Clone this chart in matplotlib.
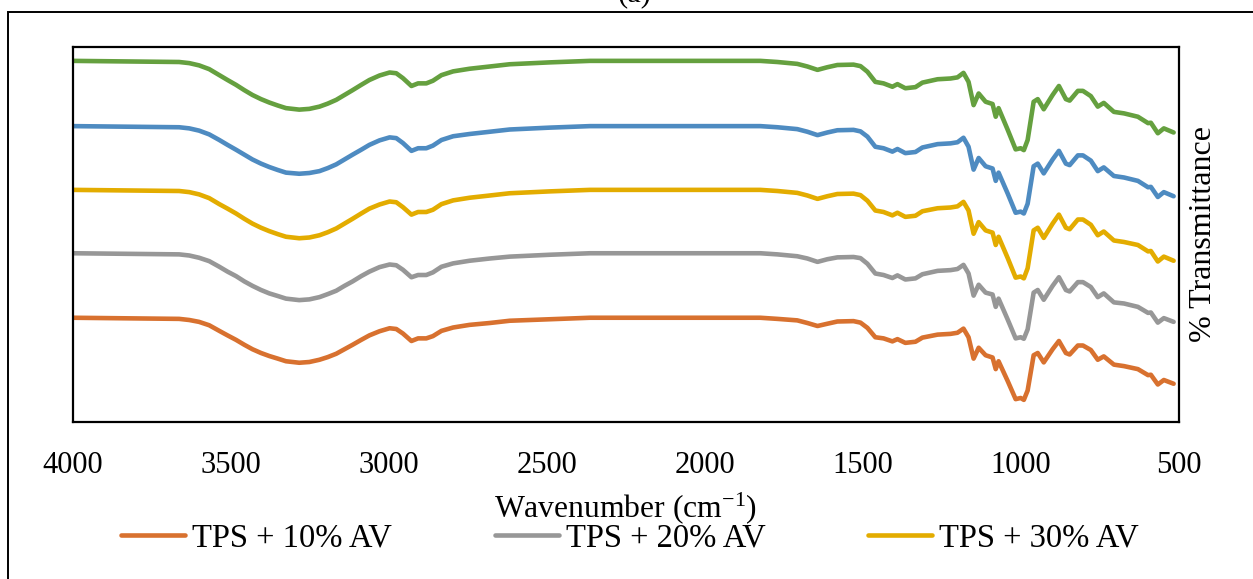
import matplotlib
matplotlib.use("Agg")
import matplotlib.pyplot as plt
from matplotlib.patches import Rectangle

plt.rcParams["font.family"] = ["Liberation Serif", "DejaVu Serif"]
plt.rcParams["mathtext.fontset"] = "custom"
plt.rcParams["mathtext.rm"] = "Liberation Serif"
plt.rcParams["mathtext.it"] = "Liberation Serif:italic"

# FTIR spectra (wavenumber in cm-1, stacked % transmittance)
wavenumber = [4000, 3664, 3632, 3601, 3569, 3537, 3511, 3484, 3458, 3432,
              3405, 3379, 3352, 3326, 3284, 3252, 3220, 3194, 3167, 3141,
              3115, 3088, 3062, 3030, 2998, 2977, 2956, 2929, 2908, 2882,
              2861, 2834, 2797, 2745, 2681, 2618, 2491, 2364, 2110, 1825,
              1771, 1708, 1676, 1644, 1613, 1581, 1530, 1508, 1486,
              1461, 1435, 1407, 1391, 1366, 1334, 1312, 1264,
              1223, 1201, 1182, 1166, 1150, 1134, 1112, 1090, 1080, 1071,
              1042, 1017, 1001, 991, 979, 960, 947, 928, 900, 880,
              858, 846, 820, 804, 779, 757, 738, 706, 674, 630,
              598, 589, 567, 548, 517]

tps_10 = [27.8, 27.5, 27.2, 26.7, 25.8, 24.3, 23.1, 21.9, 20.6, 19.4,
          18.4, 17.6, 16.9, 16.2, 15.8, 16.0, 16.6, 17.3, 18.2, 19.4,
          20.6, 21.9, 23.1, 24.2, 25.0, 24.8, 23.6, 21.6, 22.3, 22.3,
          22.9, 24.3, 25.2, 25.9, 26.4, 27.0, 27.4, 27.8, 27.8, 27.8,
          27.5, 27.1, 26.4, 25.6, 26.2, 26.8, 26.9, 26.5, 25.1,
          22.6, 22.3, 21.5, 22.1, 21.1, 21.4, 22.5, 23.3,
          23.5, 23.8, 24.9, 22.6, 16.9, 19.8, 17.8, 17.2, 14.1, 16.2,
          10.9, 6.1, 6.4, 5.9, 8.4, 17.8, 18.4, 15.9, 19.4, 21.6,
          18.4, 18.0, 20.4, 20.4, 19.2, 16.6, 17.5, 15.3, 14.9, 14.1,
          12.5, 12.6, 10.0, 11.2, 10.2]

tps_20 = [45.0, 44.7, 44.4, 43.8, 42.9, 41.4, 40.1, 38.9, 37.5, 36.3,
          35.2, 34.3, 33.6, 32.9, 32.5, 32.7, 33.3, 34.1, 35.0, 36.3,
          37.5, 38.9, 40.1, 41.3, 42.0, 41.8, 40.6, 38.6, 39.2, 39.2,
          39.9, 41.4, 42.3, 43.0, 43.6, 44.1, 44.6, 45.0, 45.0, 45.0,
          44.7, 44.2, 43.6, 42.7, 43.4, 43.9, 44.0, 43.7, 42.2,
          39.6, 39.2, 38.4, 39.1, 38.0, 38.3, 39.4, 40.3,
          40.5, 40.8, 41.9, 39.6, 33.7, 36.6, 34.5, 34.0, 30.7, 32.9,
          27.3, 22.3, 22.6, 22.2, 24.7, 34.5, 35.2, 32.6, 36.3, 38.6,
          35.2, 34.8, 37.3, 37.3, 36.0, 33.3, 34.3, 31.9, 31.6, 30.7,
          29.1, 29.2, 26.5, 27.7, 26.7]

tps_30 = [61.9, 61.6, 61.3, 60.7, 59.7, 58.1, 56.9, 55.6, 54.2, 52.9,
          51.8, 50.9, 50.1, 49.4, 49.0, 49.2, 49.8, 50.6, 51.6, 52.9,
          54.2, 55.6, 56.9, 58.0, 58.8, 58.6, 57.3, 55.3, 56.0, 56.0,
          56.6, 58.1, 59.1, 59.8, 60.4, 61.0, 61.5, 61.9, 61.9, 61.9,
          61.6, 61.1, 60.4, 59.5, 60.2, 60.8, 60.9, 60.5, 59.0,
          56.4, 56.0, 55.1, 55.8, 54.7, 55.0, 56.2, 57.0,
          57.2, 57.5, 58.7, 56.4, 50.2, 53.3, 51.1, 50.5, 47.2, 49.4,
          43.7, 38.5, 38.8, 38.3, 41.0, 51.1, 51.8, 49.1, 52.9, 55.3,
          51.8, 51.4, 54.0, 54.0, 52.6, 49.8, 50.8, 48.4, 48.0, 47.2,
          45.5, 45.6, 42.8, 44.1, 43.0]

tps_40 = [78.9, 78.6, 78.3, 77.7, 76.7, 75.2, 73.9, 72.6, 71.3, 70.0,
          68.9, 68.0, 67.2, 66.5, 66.2, 66.4, 66.9, 67.7, 68.7, 70.0,
          71.3, 72.6, 73.9, 75.1, 75.9, 75.7, 74.4, 72.3, 73.0, 73.0,
          73.7, 75.2, 76.2, 76.8, 77.4, 78.0, 78.5, 78.9, 78.9, 78.9,
          78.6, 78.1, 77.4, 76.5, 77.2, 77.8, 77.9, 77.5, 76.1,
          73.4, 73.0, 72.1, 72.8, 71.7, 72.0, 73.2, 74.1,
          74.3, 74.6, 75.8, 73.4, 67.3, 70.4, 68.2, 67.6, 64.3, 66.5,
          60.9, 55.8, 56.1, 55.6, 58.2, 68.2, 68.9, 66.3, 70.0, 72.3,
          68.9, 68.5, 71.1, 71.1, 69.7, 66.9, 67.9, 65.6, 65.2, 64.3,
          62.6, 62.7, 60.0, 61.3, 60.2]

tps_50 = [96.3, 96.0, 95.7, 95.1, 94.1, 92.5, 91.2, 89.9, 88.5, 87.2,
          86.1, 85.2, 84.4, 83.7, 83.3, 83.5, 84.1, 84.9, 85.9, 87.2,
          88.5, 89.9, 91.2, 92.4, 93.2, 93.0, 91.7, 89.6, 90.3, 90.3,
          91.0, 92.5, 93.5, 94.2, 94.8, 95.4, 95.9, 96.3, 96.3, 96.3,
          96.0, 95.5, 94.8, 93.9, 94.6, 95.2, 95.3, 94.9, 93.4,
          90.7, 90.3, 89.4, 90.1, 89.0, 89.3, 90.5, 91.4,
          91.6, 91.9, 93.1, 90.7, 84.5, 87.6, 85.4, 84.8, 81.4, 83.7,
          77.9, 72.7, 73.0, 72.5, 75.2, 85.4, 86.1, 83.4, 87.2, 89.6,
          86.1, 85.7, 88.3, 88.3, 86.9, 84.1, 85.1, 82.7, 82.3, 81.4,
          79.7, 79.8, 77.0, 78.3, 77.2]

legend_labels = ["TPS + 10% AV", "TPS + 20% AV", "TPS + 30% AV"]
x_ticks = [4000, 3500, 3000, 2500, 2000, 1500, 1000, 500]

fig = plt.figure(figsize=(12.53, 5.79), dpi=100)
ax = fig.add_axes([73 / 1253, 157 / 579, 1106 / 1253, 375 / 579])

kw = dict(lw=3.3, solid_joinstyle="round", solid_capstyle="round")
l10, = ax.plot(wavenumber, tps_10, color="#D8712F", **kw)
l20, = ax.plot(wavenumber, tps_20, color="#979797", **kw)
l30, = ax.plot(wavenumber, tps_30, color="#E3AC00", **kw)
ax.plot(wavenumber, tps_40, color="#4E8BC1", **kw)
ax.plot(wavenumber, tps_50, color="#65A03F", **kw)

ax.set_xlim(4000, 500)
ax.set_ylim(0, 100)
ax.set_xticks(x_ticks)
ax.set_xticklabels([str(t) for t in x_ticks])
ax.set_yticks([])
ax.tick_params(axis="x", length=0, pad=21, labelsize=22)
for sp in ax.spines.values():
    sp.set_linewidth(1.6)
    sp.set_color("black")

ax.text(1.0217, 0.5, "% Transmittance", transform=ax.transAxes,
        rotation=90, ha="center", va="center", fontsize=23)

fig.text(626 / 1253, 1 - 508 / 579, r"Wavenumber (cm$^{-1}$)",
         ha="center", va="center", fontsize=22.8)

fig.text(635 / 1253, 1 - 1.5 / 579, "(a)", ha="center", va="baseline",
         fontsize=22)

fig.legend([l10, l20, l30], legend_labels, loc="center",
           bbox_to_anchor=(630 / 1253, 1 - 538 / 579), ncol=3, frameon=False,
           fontsize=23.5, handlelength=1.96, handletextpad=0.21,
           columnspacing=3.16)

# chart-area border
fig.patches.append(Rectangle((8 / 1253, -0.1), 2.0, (579 - 12) / 579 + 0.1,
                             transform=fig.transFigure, fill=False,
                             edgecolor="black", lw=1.4, zorder=0))

fig.savefig("out.png", dpi=100, facecolor="white")
